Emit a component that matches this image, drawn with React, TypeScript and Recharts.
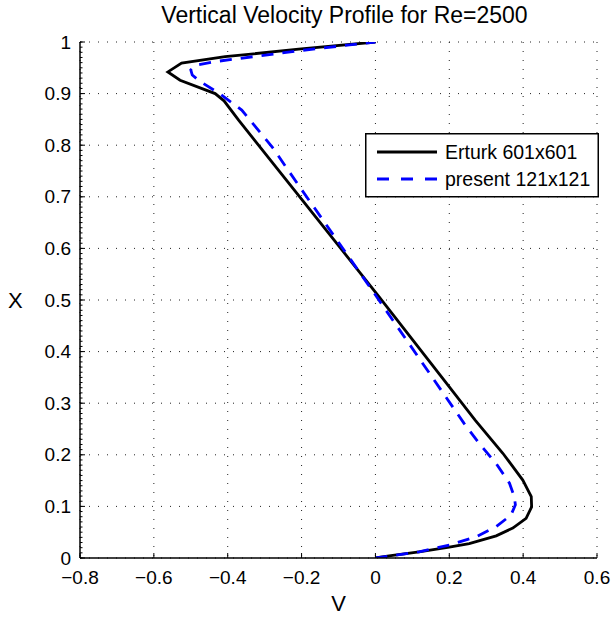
import { CartesianGrid, Legend, Line, LineChart, XAxis, YAxis } from "recharts";

// X position (vertical coordinate) and V velocity
const erturkX = [
  0, 0.004, 0.012, 0.021, 0.028, 0.043, 0.058, 0.077, 0.099, 0.119, 0.151,
  0.203, 0.267, 0.35, 0.506, 0.6, 0.7, 0.849, 0.886, 0.9, 0.926, 0.942, 0.959,
  0.9715, 0.986, 1,
];
const erturkV = [
  0, 0.037, 0.118, 0.2, 0.254, 0.327, 0.372, 0.408, 0.423, 0.422, 0.399, 0.345,
  0.27, 0.18, 0.01, -0.094, -0.205, -0.371, -0.41, -0.434, -0.529, -0.562,
  -0.525, -0.407, -0.208, 0,
];
const presentX = [
  0, 0.012, 0.025, 0.041, 0.061, 0.083, 0.103, 0.119, 0.145, 0.183, 0.222,
  0.261, 0.519, 0.713, 0.797, 0.868, 0.9, 0.924, 0.936, 0.946, 0.955, 0.962,
  0.983, 1,
];
const presentV = [
  0, 0.118, 0.2, 0.272, 0.327, 0.367, 0.379, 0.376, 0.363, 0.327, 0.281, 0.24,
  -0.009, -0.199, -0.28, -0.362, -0.422, -0.476, -0.496, -0.5, -0.487, -0.434,
  -0.208, 0,
];

const seriesNames = ["Erturk 601x601", "present 121x121"];
const vTicks = [-0.8, -0.6, -0.4, -0.2, 0, 0.2, 0.4, 0.6];
const xTicks = [0, 0.1, 0.2, 0.3, 0.4, 0.5, 0.6, 0.7, 0.8, 0.9, 1];

const minorV = Array.from({ length: 71 }, (_, i) => Math.round((-0.8 + i * 0.02) * 100) / 100);
const minorX = Array.from({ length: 101 }, (_, i) => i / 100);

const toPoints = (xs: number[], vs: number[]) => xs.map((x, i) => ({ x, v: vs[i] }));
const erturk = toPoints(erturkX, erturkV);
const present = toPoints(presentX, presentV);

const FONT = '"Liberation Sans", Arial, Helvetica, sans-serif';
const TICK_FONT = 19;
const PLOT_LEFT = 80;
const PLOT_BOTTOM = 558;

const fmtV = (v: number) => (v < 0 ? "\u2212" + Math.abs(v) : String(v));
const noLabel = () => <g />;

// tick label plus a short inward tick mark
const BottomTick = ({ x, payload }: any) => (
  <g>
    <line x1={x} x2={x} y1={PLOT_BOTTOM} y2={PLOT_BOTTOM - 5} stroke="#000" />
    <text x={x} y={PLOT_BOTTOM + 13} dy="0.71em" textAnchor="middle" fontSize={TICK_FONT} fontFamily={FONT} fill="#000">
      {fmtV(payload.value)}
    </text>
  </g>
);

const LeftTick = ({ y, payload }: any) => (
  <g>
    <line x1={PLOT_LEFT} x2={PLOT_LEFT + 5} y1={y} y2={y} stroke="#000" />
    <text x={PLOT_LEFT - 9} y={y} dy="0.35em" textAnchor="end" fontSize={TICK_FONT} fontFamily={FONT} fill="#000">
      {String(payload.value)}
    </text>
  </g>
);

function LegendBox() {
  return (
    <svg width={234} height={65} style={{ display: "block" }}>
      <rect x={0.75} y={0.75} width={232.5} height={63} fill="#fff" stroke="#000" strokeWidth={1.5} />
      <line x1={12} y1={19} x2={72} y2={19} stroke="#000" strokeWidth={2.8} />
      <text x={80} y={19} dy="0.35em" fontSize={19.5} fontFamily={FONT} fill="#000">
        {seriesNames[0]}
      </text>
      <line x1={12} y1={46} x2={72} y2={46} stroke="#0000ff" strokeWidth={2.8} strokeDasharray="12 12" />
      <text x={80} y={46} dy="0.35em" fontSize={19.5} fontFamily={FONT} fill="#000">
        {seriesNames[1]}
      </text>
    </svg>
  );
}

export default function App() {
  return (
    <div style={{ position: "absolute", left: 0, top: 0, width: 611, height: 617, background: "#fff", fontFamily: FONT }}>
      <div
        style={{
          position: "absolute",
          left: 86,
          width: 517,
          top: 2,
          textAlign: "center",
          fontSize: 23,
          color: "#000",
        }}
      >
        Vertical Velocity Profile for Re=2500
      </div>
      <LineChart width={611} height={617} margin={{ top: 42, right: 14, bottom: 0, left: 0 }}>
        <CartesianGrid
          xAxisId="main"
          yAxisId="main"
          stroke="#222"
          strokeDasharray="1 8"
          strokeWidth={1}
        />
        <XAxis
          xAxisId="main"
          type="number"
          dataKey="v"
          domain={[-0.8, 0.6]}
          ticks={vTicks}
          interval={0}
          allowDataOverflow
          height={59}
          tickLine={false}
          tickSize={0}
          axisLine={{ stroke: "#000", strokeWidth: 1.5 }}
          tick={BottomTick}
          label={{ value: "V", position: "insideBottom", offset: 6, fill: "#000", fontSize: 22, fontFamily: FONT }}
        />
        <XAxis
          xAxisId="minor"
          type="number"
          domain={[-0.8, 0.6]}
          ticks={minorV}
          interval={0}
          allowDataOverflow
          mirror
          axisLine={false}
          tickSize={2.5}
          tickLine={{ stroke: "#000" }}
          tick={noLabel}
        />
        <YAxis
          yAxisId="main"
          type="number"
          dataKey="x"
          domain={[0, 1]}
          ticks={xTicks}
          interval={0}
          allowDataOverflow
          width={80}
          tickLine={false}
          tickSize={0}
          axisLine={{ stroke: "#000", strokeWidth: 1.5 }}
          tick={LeftTick}
          label={{ value: "X", position: "insideLeft", offset: 8, fill: "#000", fontSize: 22, fontFamily: FONT }}
        />
        <YAxis
          yAxisId="minor"
          type="number"
          domain={[0, 1]}
          ticks={minorX}
          interval={0}
          allowDataOverflow
          mirror
          axisLine={false}
          tickSize={2.5}
          tickLine={{ stroke: "#000" }}
          tick={noLabel}
        />
        <Legend
          layout="vertical"
          verticalAlign="middle"
          align="center"
          content={() => <LegendBox />}
          wrapperStyle={{ left: 365, top: 133, width: 234, height: 65 }}
        />
        <Line
          xAxisId="main"
          yAxisId="main"
          data={erturk}
          dataKey="x"
          name={seriesNames[0]}
          type="linear"
          stroke="#000"
          strokeWidth={2.8}
          dot={false}
          isAnimationActive={false}
        />
        <Line
          xAxisId="main"
          yAxisId="main"
          data={present}
          dataKey="x"
          name={seriesNames[1]}
          type="linear"
          stroke="#0000ff"
          strokeWidth={2.8}
          strokeDasharray="12 9"
          dot={false}
          isAnimationActive={false}
        />
      </LineChart>
    </div>
  );
}
